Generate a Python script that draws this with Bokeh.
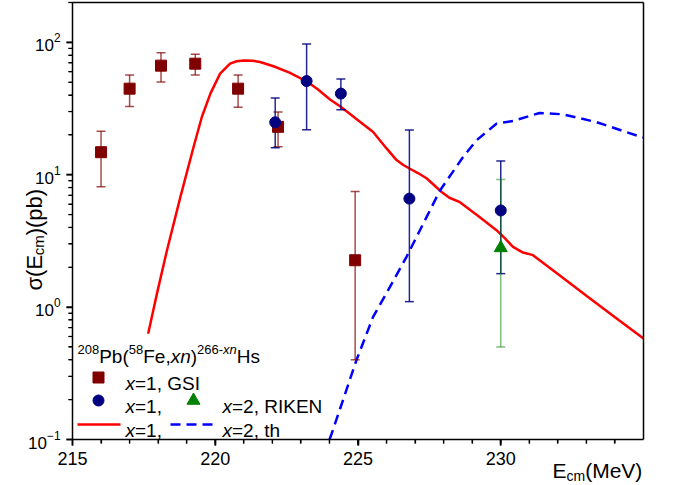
import numpy as np
from bokeh.plotting import figure
from bokeh.models import (ColumnDataSource, FixedTicker, Label, Range1d, LinearAxis)
from bokeh.embed import file_html
from bokeh.resources import INLINE

# ---------------- data ----------------
gsi_x = [216.0, 217.0, 218.1, 219.3, 220.8, 222.2, 224.9]
gsi_y = [14.8, 44.7, 66.7, 69.0, 44.7, 23.0, 2.26]
gsi_lo = [8.1, 32.7, 50.1, 56.6, 32.3, 16.3, 0.40]
gsi_hi = [21.3, 56.6, 83.6, 81.2, 56.6, 29.8, 7.47]

rik1_x = [222.1, 223.2, 224.4, 226.8, 230.0]
rik1_y = [24.9, 51.0, 41.0, 6.6, 5.37]
rik1_lo = [16.0, 21.9, 31.0, 1.10, 1.79]
rik1_hi = [38.0, 97.0, 52.8, 21.8, 12.7]

rik2_x = [230.0]
rik2_y = [2.8]
rik2_lo = [0.50]
rik2_hi = [9.2]

th1_x = [217.65, 217.96, 218.31, 218.78, 219.24, 219.53, 219.83, 220.17, 220.52,
         220.75, 221.0, 221.3, 221.57, 222.04, 222.6, 223.2, 223.6, 224.02, 224.37,
         224.7, 225.0, 225.53, 226.0, 226.35, 226.6, 226.82, 227.1, 227.4, 227.93,
         228.2, 228.57, 229.2, 229.85, 230.15, 230.43, 230.75, 231.13, 232.0, 233.0,
         234.0, 235.0]
th1_y = [0.63, 1.27, 2.69, 6.8, 16.2, 27.3, 41.0, 58.0, 69.0,
         72.0, 73.0, 72.7, 71.0, 66.0, 59.0, 50.8, 44.0, 37.0, 32.9,
         29.0, 25.8, 21.0, 15.8, 12.9, 11.8, 11.1, 10.3, 9.4, 7.4,
         6.7, 6.2, 4.9, 3.81, 3.3, 2.85, 2.6, 2.47, 1.78, 1.22,
         0.84, 0.58]

th2_x = [224.0, 224.08, 224.95, 225.53, 226.12, 226.70, 227.17, 227.87, 228.68,
         229.15, 229.85, 230.43, 231.36, 232.18, 233.34, 234.98]
th2_y = [0.1, 0.111, 0.40, 0.845, 1.42, 2.4, 3.81, 7.6, 13.6,
         18.2, 24.3, 25.5, 29.3, 28.6, 25.0, 19.1]

x_major = [215, 220, 225, 230]
x_minor = list(range(216, 235))
y_major = [0.1, 1, 10, 100]
y_minor = [k * 10.0 ** e for e in (-1, 0, 1) for k in range(2, 10)] + [200]

# ---------------- geometry ----------------
W, H = 678, 485
FX0, FX1, FY0, FY1 = 72, 643, 2, 439          # plot box inside the canvas
XMIN, XMAX, YMIN, YMAX = 215.0, 235.0, 0.1, 200.0
LLO, LHI = np.log10(YMIN), np.log10(YMAX)
MAJ, MIN_ = 6, 4                                # tick lengths, px


def dx(px):
    return XMIN + (px - FX0) * (XMAX - XMIN) / (FX1 - FX0)


def dy(py):
    return 10 ** (LHI - (py - FY0) * (LHI - LLO) / (FY1 - FY0))


ARIAL = {' ': 278, '(': 333, ')': 333, ',': 278, '-': 333, '=': 584,
         'E': 667, 'F': 611, 'G': 778, 'H': 722, 'I': 278, 'K': 667, 'M': 833,
         'N': 722, 'P': 667, 'R': 722, 'S': 667, 'V': 667, 'b': 556, 'c': 500,
         'e': 556, 'h': 556, 'm': 833, 'n': 556, 'p': 556, 's': 500, 't': 278,
         'x': 500, 'σ': 600}


def tw(s, size):
    return sum(ARIAL.get(c, 556) for c in s) / 1000.0 * size


FONT = "Liberation Sans"

# the frame fills the whole canvas; axes sit at fixed locations inside it
p = figure(width=W, height=H,
           x_range=Range1d(dx(0), dx(W)), y_range=Range1d(dy(H), dy(0)),
           y_axis_type="log", output_backend="svg", toolbar_location=None,
           min_border=0)
p.xgrid.visible = False
p.ygrid.visible = False
p.outline_line_color = None
p.background_fill_color = "white"
p.border_fill_color = "white"

xax = p.xaxis[0]
yax = p.yaxis[0]
xax.ticker = FixedTicker(ticks=x_major, minor_ticks=x_minor)
yax.ticker = FixedTicker(ticks=y_major, minor_ticks=y_minor)
xax.fixed_location = YMIN
yax.fixed_location = XMIN
xax.bounds = (XMIN, XMAX)
yax.bounds = (YMIN, YMAX)
for ax in (xax, yax):
    ax.axis_line_width = 1.5
    ax.axis_line_color = "black"
    ax.major_tick_in = 0
    ax.major_tick_out = MAJ
    ax.minor_tick_in = 0
    ax.minor_tick_out = MIN_
    ax.major_tick_line_width = 1.5
    ax.minor_tick_line_width = 1.2
    ax.major_tick_line_color = "black"
    ax.minor_tick_line_color = "black"
    ax.major_label_text_font = FONT
    ax.major_label_text_color = "black"
xax.major_label_text_font_size = "18px"
xax.major_label_standoff = 6
yax.major_label_text_font_size = "17px"
yax.major_label_standoff = 6

# top and right frame lines (tick-less axes)
top = LinearAxis(ticker=FixedTicker(ticks=[]), fixed_location=YMAX, bounds=(XMIN, XMAX),
                 axis_line_width=1.5, axis_line_color="black",
                 major_tick_out=0, minor_tick_out=0)
right = LinearAxis(ticker=FixedTicker(ticks=[]), fixed_location=XMAX, bounds=(YMIN, YMAX),
                   axis_line_width=1.5, axis_line_color="black",
                   major_tick_out=0, minor_tick_out=0)
p.add_layout(top, "above")
p.add_layout(right, "right")

# tick marks as markers (same kind as the error-bar caps), centred on the outer half
p.scatter(x=x_major, y=[dy(FY1 + MAJ / 2)] * len(x_major), marker="dash",
          size=MAJ, angle=np.pi / 2, line_color="black", line_width=1.6, level="overlay")
p.scatter(x=x_minor, y=[dy(FY1 + MIN_ / 2)] * len(x_minor), marker="dash",
          size=MIN_, angle=np.pi / 2, line_color="black", line_width=1.3, level="overlay")
p.scatter(x=[dx(FX0 - MAJ / 2)] * len(y_major), y=y_major, marker="dash",
          size=MAJ, line_color="black", line_width=1.6, level="overlay")
p.scatter(x=[dx(FX0 - MIN_ / 2)] * len(y_minor), y=y_minor, marker="dash",
          size=MIN_, line_color="black", line_width=1.3, level="overlay")

# ---------------- curves ----------------
p.line(th1_x, th1_y, line_color="#ff0000", line_width=2.5)
p.line(th2_x, th2_y, line_color="#0000ff", line_width=2.5, line_dash="10 6")

# ---------------- error bars ----------------
def errbars(xs, lo, hi, color, alpha):
    src = ColumnDataSource(dict(x=xs, lo=lo, hi=hi))
    p.segment(x0="x", y0="lo", x1="x", y1="hi", source=src,
              line_color=color, line_width=1.5, line_alpha=alpha)
    p.scatter(x="x", y="lo", source=src, marker="dash", size=9,
              line_color=color, line_width=1.5, line_alpha=alpha)
    p.scatter(x="x", y="hi", source=src, marker="dash", size=9,
              line_color=color, line_width=1.5, line_alpha=alpha)

errbars(gsi_x, gsi_lo, gsi_hi, "#800000", 0.7)
errbars(rik1_x, rik1_lo, rik1_hi, "#000080", 0.85)
errbars(rik2_x, rik2_lo, rik2_hi, "#008000", 0.5)

p.scatter(gsi_x, gsi_y, marker="square", size=11, color="#800000")
p.scatter(rik1_x, rik1_y, marker="circle", size=11, color="#000080")
p.scatter(rik2_x, rik2_y, marker="triangle", size=13, color="#008000")

# ---------------- text runs ----------------
def run(segs, px, py, angle=0.0):
    for text, size, italic, shift in segs:
        if angle == 0.0:
            qx, qy = px, py - shift
        else:
            qx, qy = px - shift, py
        p.add_layout(Label(x=dx(qx), y=dy(qy), text=text, text_font=FONT,
                           text_font_size=f"{size}px",
                           text_font_style="italic" if italic else "normal",
                           text_color="black", text_align="left",
                           text_baseline="alphabetic", angle=angle))
        if angle == 0.0:
            px += tw(text, size)
        else:
            py -= tw(text, size)

M, S = 19, 13
# legend title
run([("208", S, False, 7), ("Pb(", M, False, 0), ("58", S, False, 7),
     ("Fe,", M, False, 0), ("xn", M, True, 0), (")", M, False, 0),
     ("266-", S, False, 7), ("xn", S, True, 7), ("Hs", M, False, 0)], 77, 356)
# legend rows
run([("x", M, True, 0), ("=1, GSI", M, False, 0)], 125, 383)
run([("x", M, True, 0), ("=1,", M, False, 0)], 125, 406)
run([("x", M, True, 0), ("=2, RIKEN", M, False, 0)], 222, 406)
run([("x", M, True, 0), ("=1,", M, False, 0)], 125, 430)
run([("x", M, True, 0), ("=2, th", M, False, 0)], 222, 430)

# legend samples
p.scatter([dx(98)], [dy(377)], marker="square", size=11, color="#800000")
p.scatter([dx(98)], [dy(400)], marker="circle", size=11, color="#000080")
p.scatter([dx(193)], [dy(400)], marker="triangle", size=13, color="#008000")
p.line([dx(77), dx(120)], [dy(424), dy(424)], line_color="#ff0000", line_width=2.5)
p.line([dx(170), dx(215)], [dy(424), dy(424)], line_color="#0000ff", line_width=2.5,
       line_dash="10 6")

# axis titles
run([("E", 21, False, 0), ("cm", 14, False, -5), ("(MeV)", 21, False, 0)], 552, 470)
run([("σ(E", 22, False, 0), ("cm", 15, False, -4.5), (")(pb)", 22, False, 0)],
    33.5, 290, angle=np.pi / 2)

open("out.html", "w").write(file_html(p, INLINE))
